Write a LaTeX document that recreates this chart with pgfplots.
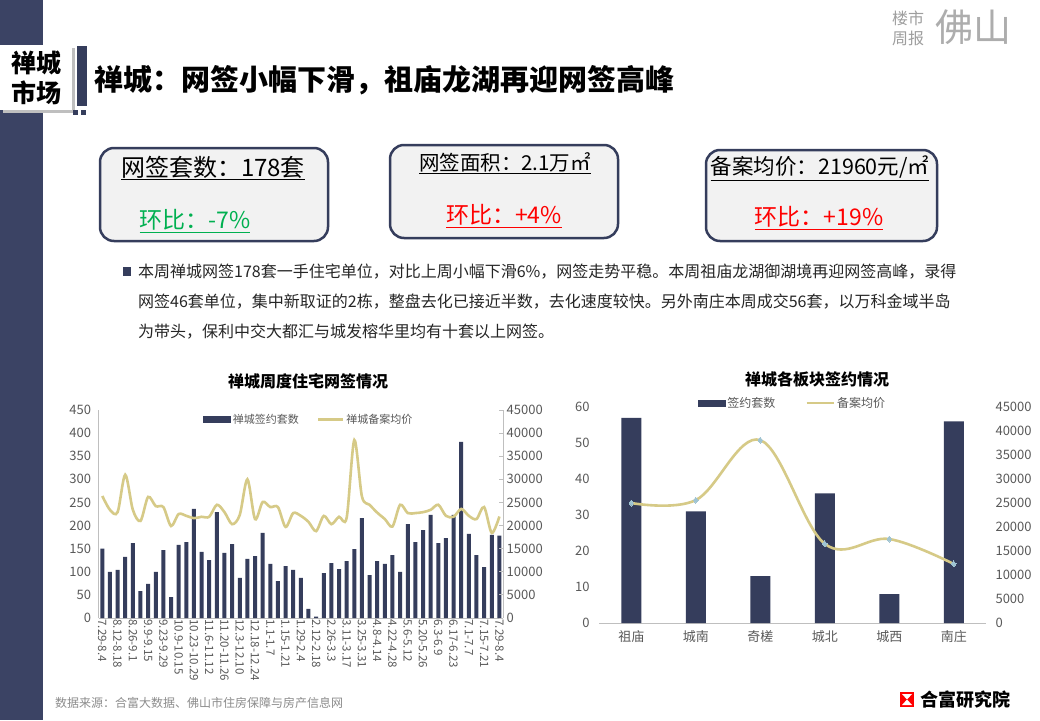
\documentclass[border=0pt]{standalone}
\usepackage{pgfplots}
\pgfplotsset{compat=1.18}
\usepackage{pgfplotstable}
\usepackage{fontspec}
\setmainfont{Noto Sans CJK SC}
\definecolor{navy}{RGB}{53,61,92}
\definecolor{band}{RGB}{59,67,100}
\definecolor{khaki}{RGB}{214,202,135}
\definecolor{lblue}{RGB}{160,196,210}
\definecolor{axgray}{RGB}{191,191,191}
\definecolor{tickgray}{RGB}{89,89,89}
\definecolor{boxfill}{RGB}{242,242,242}
\definecolor{greenx}{RGB}{0,176,80}
\definecolor{redx}{RGB}{255,0,0}
\newcommand\fs[1]{\fontsize{#1}{#1}\selectfont}

\pgfplotstableread{
i n p
0 150 26400
1 100 23400
2 104 22900
3 132 31000
4 162 23400
5 58 21000
6 74 26200
7 100 24200
8 147 24000
9 45 19900
10 158 22500
11 164 22100
12 236 21600
13 143 21900
14 125 21900
15 229 24500
16 141 22900
17 160 20300
18 87 22300
19 128 30000
20 134 21400
21 184 25100
22 117 24000
23 80 24000
24 112 19700
25 104 22700
26 87 22100
27 20 20800
28 3 18800
29 97 22100
30 119 20300
31 106 21900
32 123 21700
33 149 38500
34 216 26300
35 93 24500
36 123 22800
37 117 21400
38 136 19800
39 100 24500
40 203 22700
41 164 22700
42 190 22900
43 223 23400
44 162 24500
45 173 22100
46 223 21900
47 381 23600
48 182 22100
49 136 21400
50 110 24000
51 180 18400
52 178 21960
}\leftdata

\pgfplotstableread{
i n p
0 57 25000
1 31 25600
2 13 38100
3 36 16500
4 8 17500
5 56 12300
}\rightdata

\begin{document}
\begin{tikzpicture}
\begin{scope}[x=1pt,y=-1pt]
\fill[white] (0,0) rectangle (1040,720);
\path[use as bounding box] (0,0) rectangle (1040,720);
% left band
\fill[band] (0,0) rectangle (43,720);
% shadow + box
\fill[black!25] (3,48) rectangle (75,113);
\fill[white] (0,45) rectangle (72,110);
\node[font=\fs{25}\bfseries, align=center, inner sep=0pt] at (36,63) {禅城};
\node[font=\fs{25}\bfseries, align=center, inner sep=0pt] at (36,93) {市场};
\fill[navy] (77,46) rectangle (87,106);
\fill[navy] (73,110) rectangle (78,115);
\fill[navy] (81,110) rectangle (86,115);
% title
\node[anchor=west, font=\fs{29}\bfseries, inner sep=0pt] at (94,80) {禅城：网签小幅下滑，祖庙龙湖再迎网签高峰};
% top-right logo
\node[font=\fs{16}, text=black!38, inner sep=0pt] at (908,18) {楼市};
\node[font=\fs{16}, text=black!38, inner sep=0pt] at (908,38) {周报};
\node[font=\fs{38}, text=black!32, inner sep=0pt] at (973,27) {佛山};
% boxes
\draw[navy, line width=2.5pt, fill=boxfill, rounded corners=14pt] (100,148) rectangle (328,241);
\draw[navy, line width=2.5pt, fill=boxfill, rounded corners=14pt] (390,145) rectangle (618,238);
\draw[navy, line width=2.5pt, fill=boxfill, rounded corners=14pt] (706,150) rectangle (937,241);
\node[font=\fs{24}, inner sep=0pt] at (213,168) {\underline{网签套数：178套}};
\node[font=\fs{23}, text=greenx, inner sep=0pt] at (195,221) {\underline{环比：-7\%}};
\node[font=\fs{20.5}, inner sep=0pt] at (505,163) {\underline{网签面积：2.1万㎡}};
\node[font=\fs{23}, text=redx, inner sep=0pt] at (504,216) {\underline{环比：+4\%}};
\node[font=\fs{21.5}, inner sep=0pt] at (820,168) {\underline{备案均价：21960元/㎡}};
\node[font=\fs{23}, text=redx, inner sep=0pt] at (819,218) {\underline{环比：+19\%}};
% paragraph
\fill[navy] (123,267) rectangle (131,276);
\node[anchor=west, font=\fs{16}, text=black!85, inner sep=0pt] at (138,272) {本周禅城网签178套一手住宅单位，对比上周小幅下滑6\%，网签走势平稳。本周祖庙龙湖御湖境再迎网签高峰，录得};
\node[anchor=west, font=\fs{16}, text=black!85, inner sep=0pt] at (138,302) {网签46套单位，集中新取证的2栋，整盘去化已接近半数，去化速度较快。另外南庄本周成交56套，以万科金域半岛};
\node[anchor=west, font=\fs{16}, text=black!85, inner sep=0pt] at (138,332) {为带头，保利中交大都汇与城发榕华里均有十套以上网签。};
% chart titles
\node[font=\fs{16}\bfseries, inner sep=0pt] at (308,381) {禅城周度住宅网签情况};
\node[font=\fs{16}\bfseries, inner sep=0pt] at (817,379) {禅城各板块签约情况};
% footer
\node[anchor=west, font=\fs{12}, text=black!45, inner sep=0pt] at (55,703) {数据来源：合富大数据、佛山市住房保障与房产信息网};
\fill[redx] (900,692) rectangle (914,707);
\fill[white] (902,694) -- (912,694) -- (907,699.5) -- cycle;
\fill[white] (902,705) -- (912,705) -- (907,699.5) -- cycle;
\node[anchor=west, font=\fs{18}\bfseries, inner sep=0pt] at (920,700) {合富研究院};
\end{scope}

% ---------- left chart ----------
\begin{axis}[
  at={(98.5pt,-618pt)}, anchor=south west, scale only axis,
  width=404.7pt, height=208pt,
  xmin=-0.5, xmax=52.5, ymin=0, ymax=450, ytick={0,50,...,450},
  axis x line*=bottom, axis y line*=left,
  axis line style={draw=axgray, line width=0.8pt},
  major tick length=0pt,
  xtick={0,2,...,52},
  xticklabels={7.29-8.4,8.12-8.18,8.26-9.1,9.9-9.15,9.23-9.29,10.9-10.15,10.23-10.29,11.6-11.12,11.20-11.26,12.3-12.10,12.18-12.24,1.1-1.7,1.15-1.21,1.29-2.4,2.12-2.18,2.26-3.3,3.11-3.17,3.25-3.31,4.8-4.14,4.22-4.28,5.6-5.12,5.20-5.26,6.3-6.9,6.17-6.23,7.1-7.7,7.15-7.21,7.29-8.4},
  xticklabel style={rotate=-90, anchor=west, font=\fs{11.5}, text=tickgray, xshift=-2pt},
  yticklabel style={font=\fs{13}, text=tickgray, xshift=-4pt},
  /pgf/number format/assume math mode=true,
  ybar, bar width=4pt,
]
\addplot[fill=navy, draw=none] table[x=i, y=n] {\leftdata};
\end{axis}
\begin{axis}[
  at={(98.5pt,-618pt)}, anchor=south west, scale only axis,
  width=404.7pt, height=208pt,
  xmin=-0.5, xmax=52.5, ymin=0, ymax=45000, ytick={0,5000,...,45000},
  axis y line*=right, axis x line=none,
  axis line style={draw=axgray, line width=0.8pt},
  tick style={draw=axgray, line width=0.8pt}, major tick length=4pt,
  scaled y ticks=false,
  yticklabel style={font=\fs{13}, text=tickgray, /pgf/number format/1000 sep={}},
  /pgf/number format/assume math mode=true,
  legend style={at={(0.52,1)}, anchor=north, draw=none, fill=none, font=\fs{11}, text=tickgray,
    legend columns=2, /tikz/every even column/.append style={column sep=16pt}},
]
\addlegendimage{legend image code/.code={\fill[navy] (0pt,-3pt) rectangle (27pt,3pt);}}
\addlegendentry{禅城签约套数}
\addplot[khaki, line width=2.6pt, smooth, tension=0.5, no markers,
  legend image code/.code={\draw[khaki,line width=2.6pt] (0pt,0pt) -- (25pt,0pt);}] table[x=i, y=p] {\leftdata};
\addlegendentry{禅城备案均价}
\end{axis}

% ---------- right chart ----------
\begin{axis}[
  at={(599pt,-623pt)}, anchor=south west, scale only axis,
  width=387pt, height=216pt,
  xmin=-0.5, xmax=5.5, ymin=0, ymax=60, ytick={0,10,...,60},
  axis x line*=bottom, axis y line*=left,
  x axis line style={draw=axgray, line width=0.8pt},
  y axis line style={draw=none},
  major tick length=0pt,
  xtick={0,...,5}, xticklabels={祖庙,城南,奇槎,城北,城西,南庄},
  xticklabel style={font=\fs{13}, text=tickgray, yshift=-4pt},
  yticklabel style={font=\fs{13}, text=tickgray, xshift=-6pt},
  /pgf/number format/assume math mode=true,
  ybar, bar width=20pt,
]
\addplot[fill=navy, draw=none] table[x=i, y=n] {\rightdata};
\end{axis}
\begin{axis}[
  at={(599pt,-623pt)}, anchor=south west, scale only axis,
  width=387pt, height=216pt,
  xmin=-0.5, xmax=5.5, ymin=0, ymax=45000, ytick={0,5000,...,45000},
  axis y line*=right, axis x line=none,
  y axis line style={draw=none},
  major tick length=0pt,
  scaled y ticks=false,
  yticklabel style={font=\fs{13}, text=tickgray, xshift=6pt, /pgf/number format/1000 sep={}},
  /pgf/number format/assume math mode=true,
  legend style={at={(0.5,1)}, anchor=center, yshift=4pt, draw=none, fill=none, font=\fs{12}, text=tickgray,
    legend columns=2, /tikz/every even column/.append style={column sep=28pt}},
]
\addlegendimage{legend image code/.code={\fill[navy] (0pt,-3pt) rectangle (27pt,3pt);}}
\addlegendentry{签约套数}
\addplot[khaki, line width=2.6pt, smooth, tension=0.6, mark=diamond*, mark size=3pt,
  mark options={fill=lblue, draw=lblue, line width=0pt},
  legend image code/.code={\draw[khaki,line width=2.6pt] (0pt,0pt) -- (27pt,0pt);}] table[x=i, y=p] {\rightdata};
\addlegendentry{备案均价}
\end{axis}
\end{tikzpicture}
\end{document}
